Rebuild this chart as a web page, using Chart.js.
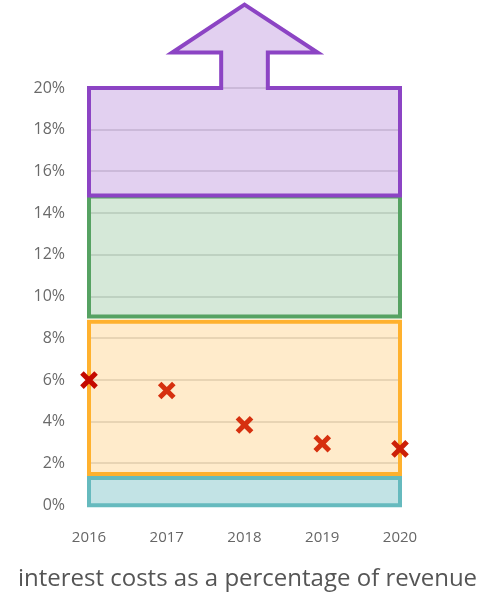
<!DOCTYPE html>
<html>
<head>
<meta charset="utf-8">
<script src="https://cdn.jsdelivr.net/npm/chart.js@4"></script>
<style>
  html, body { margin: 0; padding: 0; background: #fff; }
  #chart { display: block; }
</style>
</head>
<body>
<canvas id="chart" width="481" height="597"></canvas>
<script>
// Years on the x axis
const years = ['2016', '2017', '2018', '2019', '2020'];

// Interest costs as % of revenue (red crosses)
const interestShare = [6.0, 5.5, 3.85, 2.95, 2.7];

// Background bands (bottom to top), low and high edge in %
const bandLow = [0, 1.5, 9.05, 14.85];
const bandHigh = [1.3, 8.8, 14.8, 20];
const bandStroke = ['#66babe', '#ffb12e', '#56a262', '#8c44c4'];
const bandFill = ['rgba(102,186,190,0.4)', 'rgba(255,177,46,0.25)', 'rgba(86,162,98,0.25)', 'rgba(140,68,196,0.25)'];

// Y axis ticks
const yMin = 0;
const yMax = 20;
const yStep = 2;

// Draws the coloured bands, the top one carries an arrow pointing up
const bandsPlugin = {
    id: 'bands',
    beforeDatasetsDraw(chart) {
        const ctx = chart.ctx;
        const x = chart.scales.x;
        const y = chart.scales.y;
        const first = 0;
        const last = years.length - 1;

        ctx.save();
        ctx.lineWidth = 4;
        ctx.lineJoin = 'miter';
        for (let i = 0; i < bandLow.length; i++) {
            let pts;
            if (i == bandLow.length - 1) {
                // box with arrow (x in category index units, y in %)
                pts = [
                    [first, bandLow[i]], [first, bandHigh[i]],
                    [1.7, bandHigh[i]], [1.7, 21.7], [1.07, 21.7],
                    [2.0, 24.0],
                    [2.94, 21.7], [2.3, 21.7], [2.3, bandHigh[i]],
                    [last, bandHigh[i]], [last, bandLow[i]]
                ];
            } else {
                pts = [[first, bandLow[i]], [first, bandHigh[i]], [last, bandHigh[i]], [last, bandLow[i]]];
            }
            ctx.beginPath();
            pts.forEach(function (p, k) {
                const px = x.getPixelForValue(p[0]);
                const py = y.getPixelForValue(p[1]);
                if (k == 0) ctx.moveTo(px, py);
                else ctx.lineTo(px, py);
            });
            ctx.closePath();
            ctx.fillStyle = bandFill[i];
            ctx.fill();
            ctx.strokeStyle = bandStroke[i];
            ctx.stroke();
        }
        ctx.restore();
    }
};

const ctx = document.getElementById('chart').getContext('2d');

const chart = new Chart(ctx, {
    type: 'line',
    data: {
        labels: years,
        datasets: [{
            label: 'Interest costs',
            data: interestShare,
            showLine: false,
            pointStyle: 'crossRot',
            pointRadius: 10,
            pointHoverRadius: 10,
            pointBorderWidth: 5,
            pointBorderColor: ['#c40a00', '#d6300f', '#d6300f', '#d6300f', '#cc2008'],
            pointBackgroundColor: '#d6300f',
            clip: false
        }]
    },
    options: {
        responsive: false,
        animation: false,
        layout: {
            padding: { left: 14, right: 0, top: 88, bottom: 0 }
        },
        plugins: {
            legend: { display: false },
            tooltip: { enabled: false },
            title: {
                display: true,
                position: 'bottom',
                text: 'interest costs as a percentage of revenue',
                color: '#555',
                font: { family: 'Open Sans', size: 24, weight: 'normal' },
                padding: { top: 8, bottom: 3 }
            }
        },
        scales: {
            x: {
                offset: false,
                grid: { display: false, drawTicks: false },
                border: { display: false },
                ticks: {
                    color: '#666',
                    padding: 24,
                    font: { family: 'Open Sans', size: 15 }
                },
                afterFit: function (scale) { scale.height = 52; }
            },
            y: {
                min: yMin,
                max: yMax,
                grid: {
                    color: 'rgba(0,0,0,0.12)',
                    lineWidth: 2,
                    drawTicks: false
                },
                border: { display: false },
                ticks: {
                    stepSize: yStep,
                    color: '#6a6a6a',
                    padding: 24,
                    font: { family: 'Open Sans', size: 16 },
                    callback: function (v) { return v + '%'; }
                },
                afterFit: function (scale) { scale.width = 75; }
            },
            // empty axis on the right, only keeps the plot narrow
            yRight: {
                position: 'right',
                grid: { display: false, drawTicks: false },
                border: { display: false },
                ticks: { display: false },
                afterFit: function (scale) { scale.width = 81; }
            }
        }
    },
    plugins: [bandsPlugin]
});
</script>
</body>
</html>
